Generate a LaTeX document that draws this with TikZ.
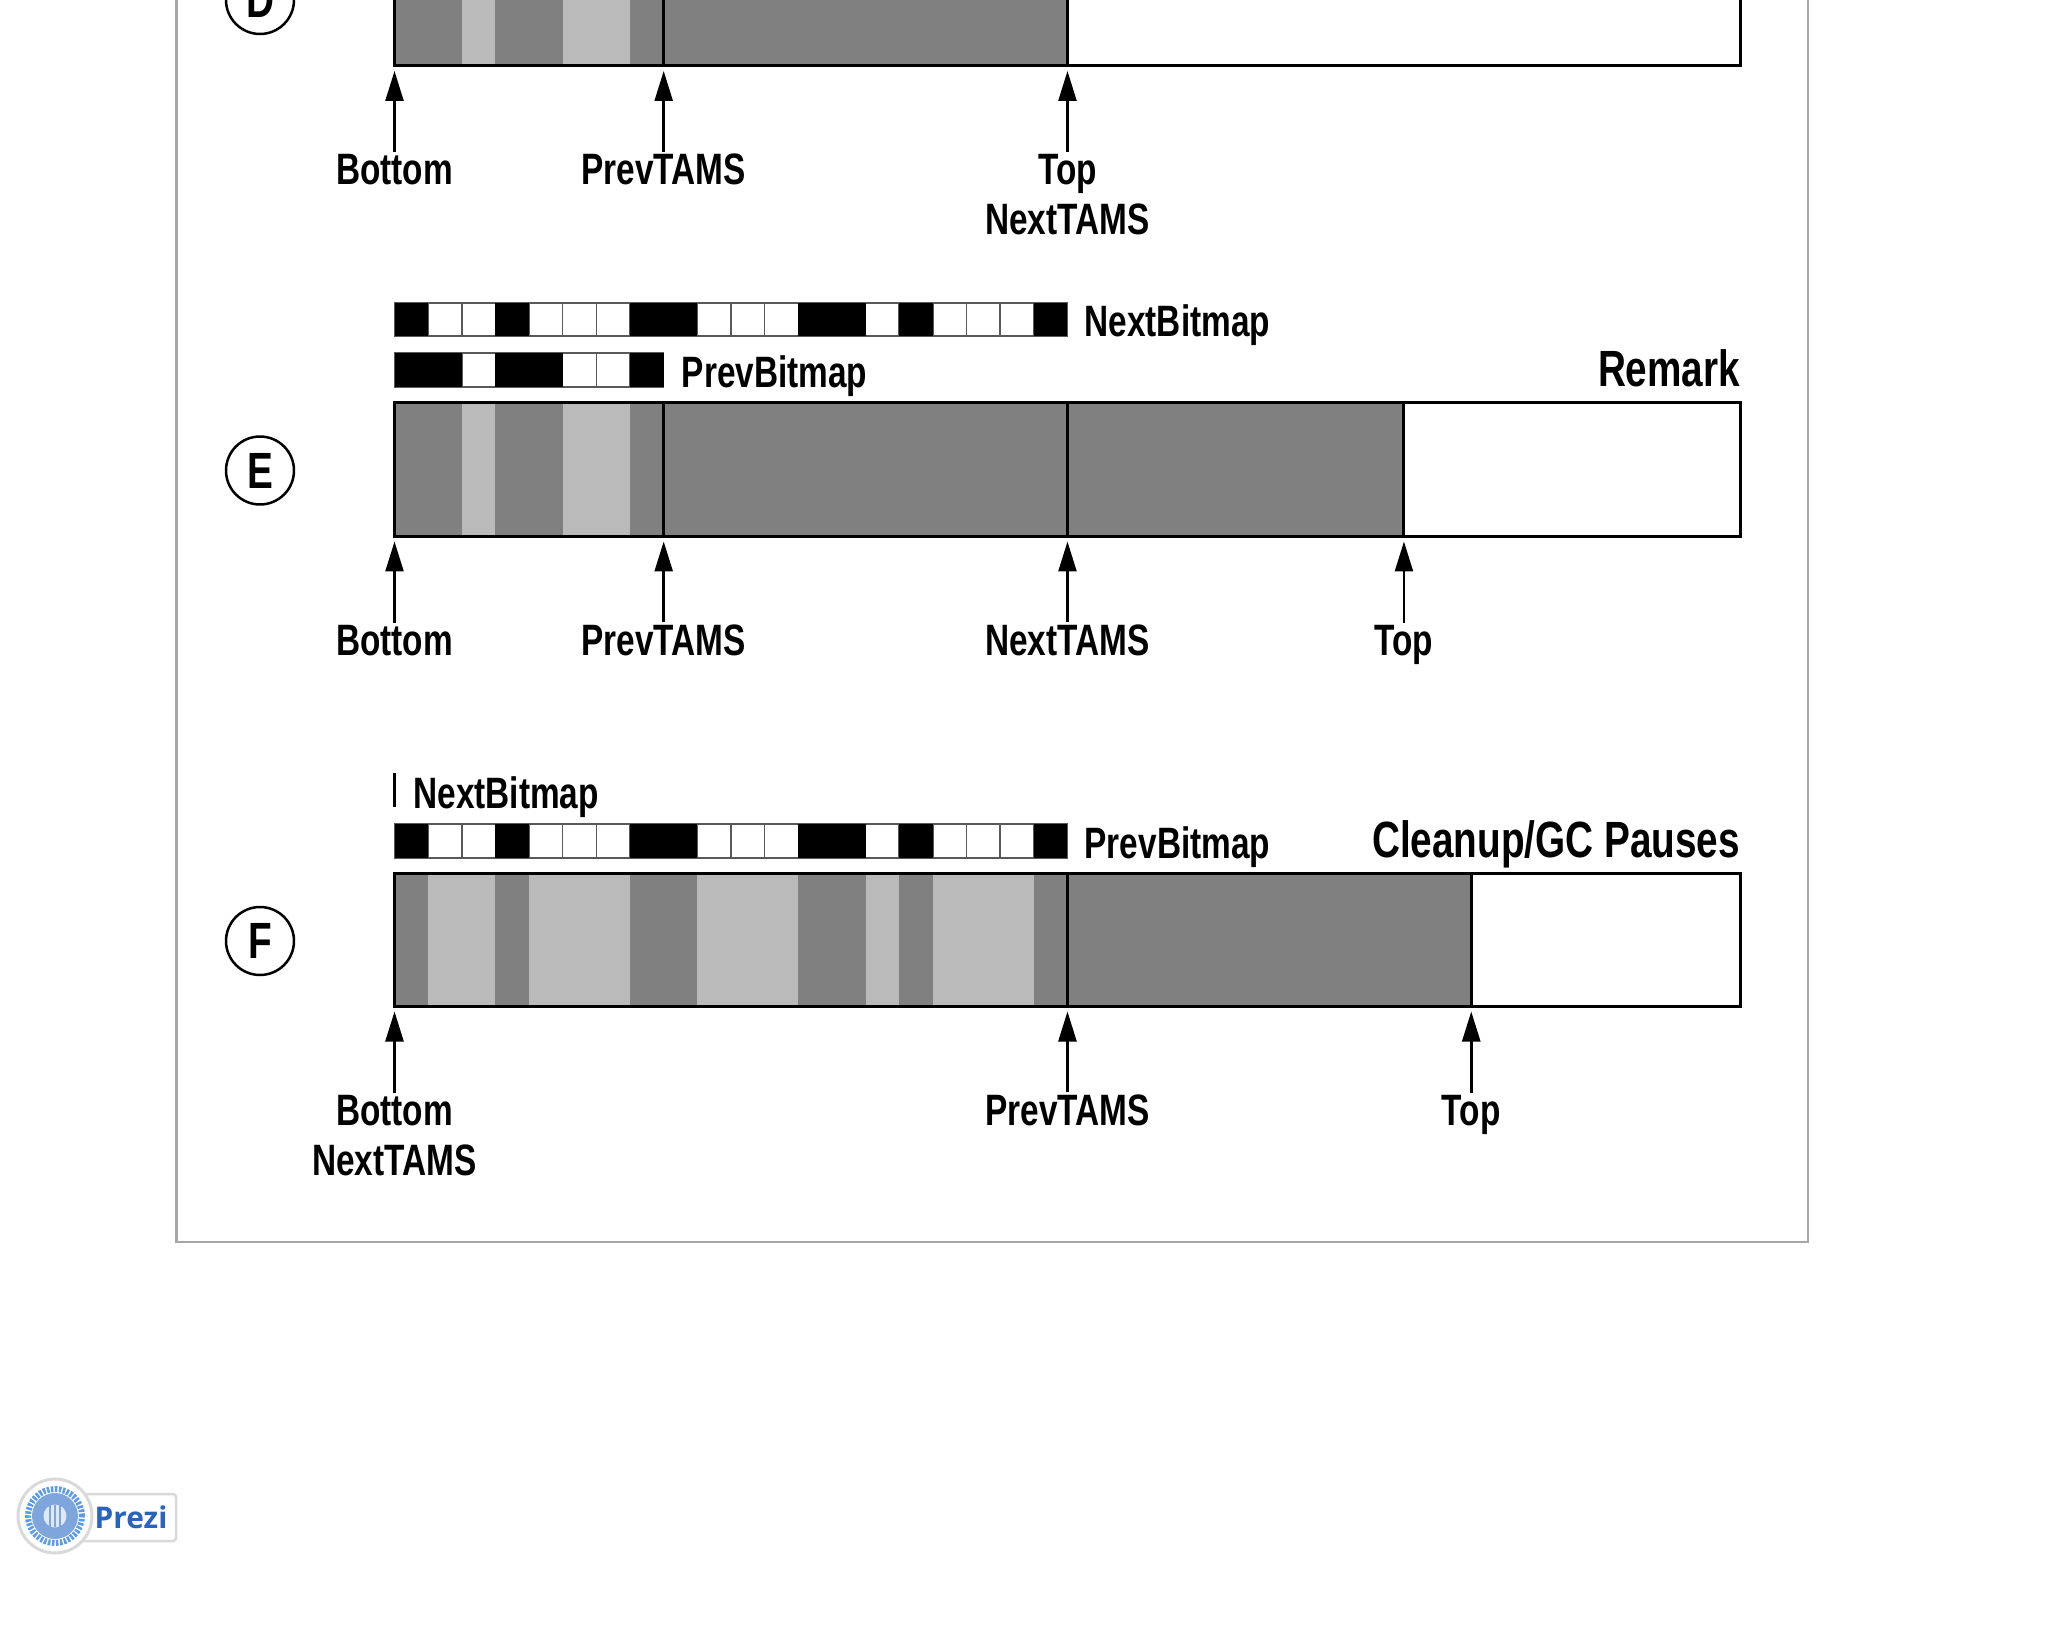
\documentclass[tikz,border=0pt]{standalone}
\usepackage{fontspec}
\setmainfont[FakeStretch=0.76]{Liberation Sans}
\newfontfamily\badgefont{Open Sans}
\usetikzlibrary{arrows.meta}
\definecolor{heapdark}{gray}{0.5}
\definecolor{heaplight}{gray}{0.73}
\definecolor{badgeblue}{HTML}{2A62C0}
\definecolor{badgedisk}{HTML}{7FA6DC}
\definecolor{badgering}{HTML}{5C9AEC}
\tikzset{
	outline/.style = {draw = black, line width = 0.06cm},
	ptr/.style = {-{Triangle[length = 0.6cm, width = 0.36cm]}, line width = 0.05cm},
	ptrlabel/.style = {anchor = base, inner sep = 0.04cm, font = \fontsize{25}{30}\selectfont\bfseries},
	sidelabel/.style = {anchor = base west, inner sep = 0pt, font = \fontsize{25}{30}\selectfont\bfseries},
	phase/.style = {anchor = base east, inner sep = 0pt, font = \fontsize{29}{34}\selectfont\bfseries},
	stage/.style = {circle, draw = black, line width = 0.05cm, minimum size = 1.36cm, inner sep = 0pt, font = \fontsize{29}{34}\selectfont\bfseries},
	bit/.style = {draw = black!65, line width = 0.03cm, fill = white},
	bitset/.style = {fill = black},
}
\begin{document}
\begin{tikzpicture}[x = 0.02cm, y = -0.02cm]
	\useasboundingbox (0,0) rectangle (2048,1638);
	\clip (0,0) rectangle (2048,1638);
	\draw[color = black!35, line width = 0.05cm] (176.5,-20) -- (176.5,1242) -- (1808,1242) -- (1808,-20);
	% stage D
	\node[stage] (stageD) at (260,0) {D};
	\begin{scope}[shift = {(394.5,-67.5)}, x = 0.6731cm]
		\fill[heapdark] (0,0) rectangle (20,133.5);
		\foreach \c in {2,5,6}
		\fill[heaplight] (\c,0) rectangle (\c+1,133.5);
		\draw[outline] (0,0) rectangle (40,133.5);
		\foreach \c in {8,20}
		\draw[outline] (\c,0) -- (\c,133.5);
		\coordinate (tipD) at (0,138.5);
		\foreach \c/\n/\t in {0/bottomD/Bottom, 8/prevD/PrevTAMS, 20/topD/Top} {
			\node[ptrlabel] (\n) at (\c,252.5) {\t};
			\draw[ptr] (\n) -- (\n |- tipD);
		}
		\node[ptrlabel] (nextD) at (20,302.5) {NextTAMS};
	\end{scope}
	% stage E
	\node[stage] (stageE) at (260,470.5) {E};
	\begin{scope}[shift = {(394.5,403)}, x = 0.6731cm]
		\foreach \c in {0,...,19}
		\draw[bit] (\c,-100) rectangle (\c+1,-67);
		\foreach \c in {0,3,7,8,12,13,15,19}
		\fill[bitset] (\c,-100) rectangle (\c+1,-67);
		\foreach \c in {0,...,7}
		\draw[bit] (\c,-50) rectangle (\c+1,-16);
		\foreach \c in {0,1,3,4,7}
		\fill[bitset] (\c,-50) rectangle (\c+1,-16);
		\node[sidelabel] (nextmapE) at (20.5,-66) {NextBitmap};
		\node[sidelabel] (prevmapE) at (8.53,-15) {PrevBitmap};
		\node[phase] (remark) at (40,-16) {Remark};
		\fill[heapdark] (0,0) rectangle (30,133.5);
		\foreach \c in {2,5,6}
		\fill[heaplight] (\c,0) rectangle (\c+1,133.5);
		\draw[outline] (0,0) rectangle (40,133.5);
		\foreach \c in {8,20,30}
		\draw[outline] (\c,0) -- (\c,133.5);
		\coordinate (tipE) at (0,138.5);
		\foreach \c/\n/\t in {0/bottomE/Bottom, 8/prevE/PrevTAMS, 20/nextE/NextTAMS, 30/topE/Top} {
			\node[ptrlabel] (\n) at (\c,252.5) {\t};
			\draw[ptr] (\n) -- (\n |- tipE);
		}
	\end{scope}
	% stage F
	\node[stage] (stageF) at (260,941) {F};
	\begin{scope}[shift = {(394.5,873)}, x = 0.6731cm]
		\coordinate (markF) at (0,-100);
		\coordinate (markFend) at (0,-66);
		\draw[line width = 0.05cm] (markF) -- (markFend);
		\node[sidelabel] (nextmapF) at (0.55,-65) {NextBitmap};
		\foreach \c in {0,...,19}
		\draw[bit] (\c,-49) rectangle (\c+1,-15);
		\foreach \c in {0,3,7,8,12,13,15,19}
		\fill[bitset] (\c,-49) rectangle (\c+1,-15);
		\node[sidelabel] (prevmapF) at (20.5,-15) {PrevBitmap};
		\node[phase] (cleanup) at (40,-16) {Cleanup/GC Pauses};
		\fill[heapdark] (0,0) rectangle (32,133.5);
		\foreach \c in {1,2,4,5,6,9,10,11,14,16,17,18}
		\fill[heaplight] (\c,0) rectangle (\c+1,133.5);
		\draw[outline] (0,0) rectangle (40,133.5);
		\foreach \c in {20,32}
		\draw[outline] (\c,0) -- (\c,133.5);
		\coordinate (tipF) at (0,138.5);
		\foreach \c/\n/\t in {0/bottomF/Bottom, 20/prevF/PrevTAMS, 32/topF/Top} {
			\node[ptrlabel] (\n) at (\c,252.5) {\t};
			\draw[ptr] (\n) -- (\n |- tipF);
		}
		\node[ptrlabel] (nextF) at (0,302.5) {NextTAMS};
	\end{scope}
	% badge
	\draw[fill = white, draw = black!15, line width = 0.05cm, rounded corners = 0.06cm] (55,1494) rectangle (176,1541);
	\draw[fill = white, draw = black!15, line width = 0.06cm] (55,1516) circle [radius = 0.74cm];
	\draw[color = badgering, line width = 0.12cm, dash pattern = on 0.05cm off 0.03cm] (55,1516) circle [radius = 0.54cm];
	\fill[badgedisk] (55,1516) circle [radius = 0.46cm];
	\fill[white!75!badgedisk] (55,1516) circle [radius = 0.23cm];
	\foreach \c in {-5,0,5}
	\fill[badgedisk] (55+\c-1,1505) rectangle (55+\c+1,1527);
	\node[text = badgeblue, inner sep = 0pt, font = \badgefont\fontsize{17}{20}\selectfont\bfseries] (prezi) at (131,1517) {Prezi};
\end{tikzpicture}
\end{document}
